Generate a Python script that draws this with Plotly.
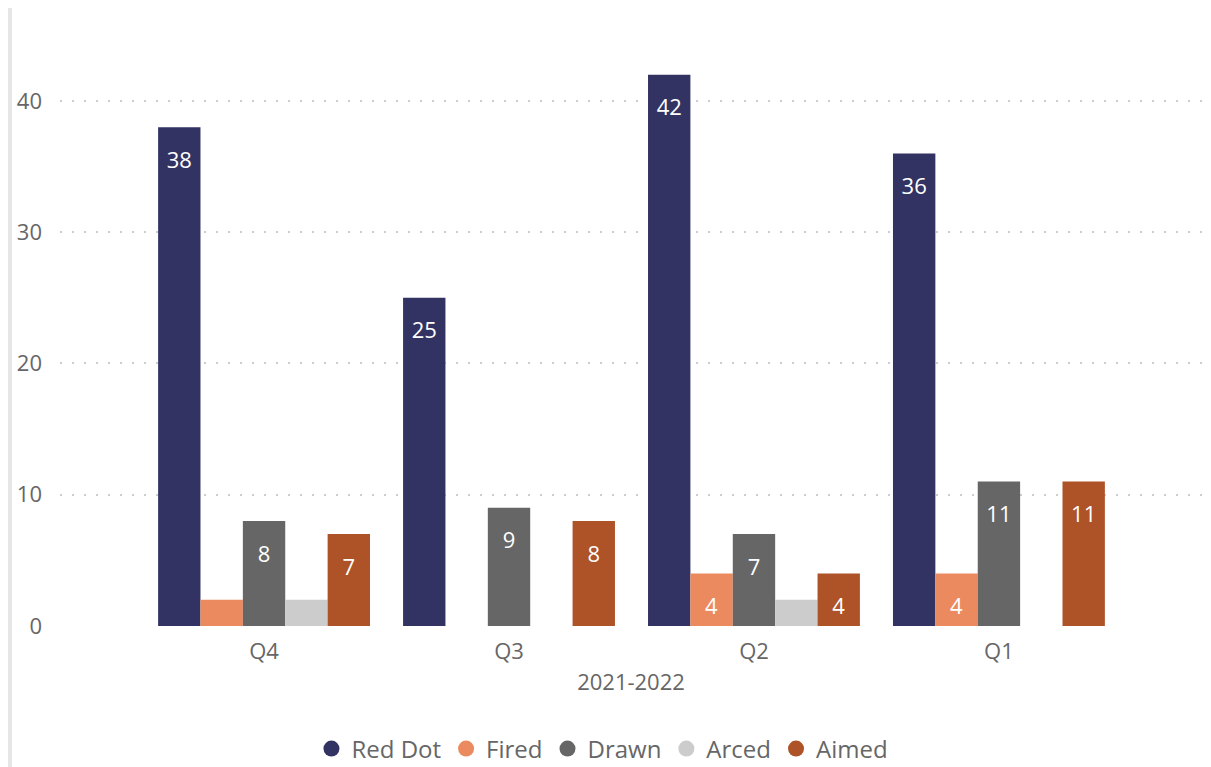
import plotly.graph_objects as go

quarters = ['Q4', 'Q3', 'Q2', 'Q1']
series_names = ['Red Dot', 'Fired', 'Drawn', 'Arced', 'Aimed']
red_dot = [38, 25, 42, 36]
fired = [2, 0, 4, 4]
drawn = [8, 9, 7, 11]
arced = [2, 0, 2, 0]
aimed = [7, 8, 4, 11]
colors = ['#333363', '#EC8A5F', '#666666', '#CCCCCC', '#AE5228']

fig = go.Figure()
for name, vals, col in zip(series_names, [red_dot, fired, drawn, arced, aimed], colors):
    # power bi hides the labels that do not fit; small spacer line pushes label down a bit
    labels = ["<span style='font-size:8px'> </span><br>" + str(v) if v >= 3 else '' for v in vals]
    fig.add_trace(go.Bar(
        x=quarters, y=vals, name=name, marker=dict(color=col, line=dict(width=0)),
        text=labels, textposition='inside', insidetextanchor='end', textangle=0,
        textfont=dict(color='white', size=22, family='Open Sans'),
        showlegend=False, hoverinfo='skip'
    ))
    # round legend markers
    fig.add_trace(go.Scatter(
        x=[None], y=[None], mode='markers', name=name,
        marker=dict(color=col, size=19, symbol='circle')
    ))

# thin grey strip on the left edge
fig.add_shape(type='rect', xref='paper', yref='paper',
              x0=-52 / 1142, x1=-48 / 1142, y0=-0.24, y1=1.06,
              fillcolor='#E6E6E6', line=dict(width=0), layer='below')

# page body has an 8px margin, so the figure is a bit smaller than the window
fig.update_layout(
    width=1203, height=759,
    paper_bgcolor='white', plot_bgcolor='white',
    margin=dict(l=52, r=9, t=22, b=141),
    barmode='group', bargap=0.135, bargroupgap=0,
    uniformtext=dict(minsize=22, mode='show'),
    font=dict(family='Open Sans', color='#666666', size=22),
    xaxis=dict(
        range=[-0.833, 3.829], showgrid=False, showline=False, zeroline=False,
        ticks='', tickfont=dict(size=22, color='#666666'), automargin=False,
        ticklabelstandoff=10,
        title=dict(text='2021-2022', font=dict(size=22, color='#666666'), standoff=10)
    ),
    yaxis=dict(
        range=[0, 45.4], tickvals=[0, 10, 20, 30, 40], showgrid=True,
        gridcolor='#CDCDCD', gridwidth=2, griddash='2px,10px',
        zeroline=False, showline=False, ticks='', ticklabelstandoff=17,
        automargin=False, tickfont=dict(size=22, color='#666666')
    ),
    legend=dict(orientation='h', x=0.475, xanchor='center',
                yref='container', y=1 - 741 / 759, yanchor='middle',
                font=dict(size=24, color='#666666'), itemwidth=30,
                tracegroupgap=0, itemclick=False)
)

fig.write_html("out.html")
